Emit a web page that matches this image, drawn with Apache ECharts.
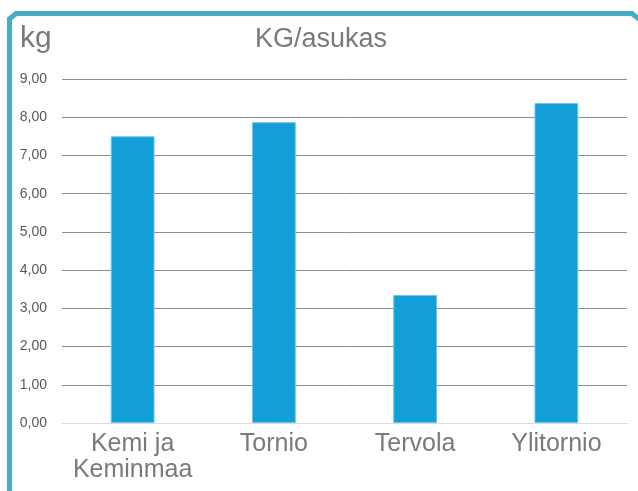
<!DOCTYPE html>
<html>
<head>
<meta charset="utf-8">
<script src="https://cdn.jsdelivr.net/npm/echarts@6/dist/echarts.min.js"></script>
<style>
  html, body { margin: 0; padding: 0; background: #fff; }
  #chart { width: 638px; height: 491px; }
</style>
</head>
<body>
<div id="chart"></div>
<script>
const categories = ["Kemi ja\nKeminmaa", "Tornio", "Tervola", "Ylitornio"];
const kgPerResident = [7.5, 7.87, 3.35, 8.37];

const chart = echarts.init(document.getElementById("chart"));

// first split line (the zero line) is lighter than the rest
const gridColors = ["#d9d9d9", "#8c8c8c", "#8c8c8c", "#8c8c8c", "#8c8c8c",
  "#8c8c8c", "#8c8c8c", "#8c8c8c", "#8c8c8c", "#8c8c8c"];

chart.setOption({
  animation: false,
  textStyle: { fontFamily: "Liberation Sans, Arial, sans-serif" },
  graphic: [
    {
      type: "polyline",
      shape: { points: [[9.5, 495], [9.5, 19], [16, 13.5], [632, 13.5], [640, 20]] },
      style: { stroke: "#46adc2", lineWidth: 5, fill: null }
    },
    {
      type: "text",
      left: 20,
      top: 24,
      style: { text: "kg", font: "30px Liberation Sans, Arial, sans-serif", fill: "#7a7a7a" }
    }
  ],
  title: {
    text: "KG/asukas",
    left: 316,
    textAlign: "center",
    top: 21,
    textStyle: { fontSize: 27, fontWeight: "normal", color: "#7a7a7a" }
  },
  grid: { left: 62, right: 11, top: 79, bottom: 68 },
  xAxis: {
    type: "category",
    data: categories,
    axisTick: { show: false },
    axisLine: { lineStyle: { color: "#d9d9d9" } },
    axisLabel: { interval: 0, fontSize: 25, color: "#7a7a7a", margin: 8, lineHeight: 26 }
  },
  yAxis: {
    type: "value",
    min: 0,
    max: 9,
    interval: 1,
    axisLabel: {
      fontSize: 14,
      color: "#595959",
      margin: 15,
      formatter: v => v.toFixed(2).replace(".", ",")
    },
    splitLine: { lineStyle: { color: gridColors, width: 1 } }
  },
  series: [
    {
      type: "bar",
      data: kgPerResident,
      barWidth: "31%",
      itemStyle: { color: "#129fd7", borderColor: "#6cc6ea", borderWidth: 1 }
    }
  ]
});
</script>
</body>
</html>
